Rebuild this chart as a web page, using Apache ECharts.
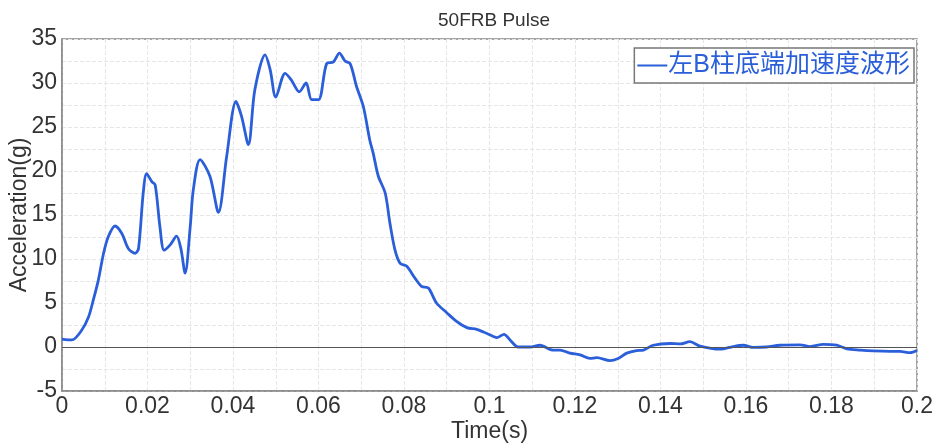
<!DOCTYPE html>
<html>
<head>
<meta charset="utf-8">
<script src="https://cdn.jsdelivr.net/npm/echarts@6/dist/echarts.min.js"></script>
<style>
html,body{margin:0;padding:0;background:#fff;}
#c{width:934px;height:446px;}
</style>
</head>
<body>
<div id="c"></div>
<script>
var timeS = [0,0.0023,0.0046,0.0062,0.0073,0.0085,0.0097,0.0108,0.0124,0.014,0.0155,0.0171,0.0179,0.019,0.0198,0.021,0.0218,0.0229,0.0239,0.0253,0.0268,0.0278,0.0288,0.0300,0.0307,0.0323,0.0346,0.0366,0.0385,0.0407,0.042,0.0436,0.0451,0.0475,0.0487,0.05,0.0522,0.0537,0.0555,0.0571,0.0584,0.06,0.0619,0.0635,0.0649,0.0662,0.0674,0.0689,0.0705,0.072,0.0728,0.074,0.0756,0.0767,0.0779,0.0791,0.0806,0.0826,0.0841,0.0857,0.0876,0.09,0.0923,0.0947,0.097,0.0986,0.1009,0.1017,0.1034,0.1048,0.1067,0.1095,0.1118,0.1149,0.1165,0.1188,0.1212,0.1235,0.1251,0.1282,0.1301,0.1321,0.1344,0.136,0.1383,0.1422,0.1446,0.1469,0.1492,0.1539,0.157,0.1594,0.1617,0.1648,0.1679,0.1726,0.175,0.1781,0.1812,0.1836,0.1867,0.1898,0.1937,0.196,0.1984,0.2];
var accelG = [0.9,0.8,1.9,3.4,5.3,7.6,10.6,12.5,13.75,12.9,11.2,10.65,11.2,17.5,19.7,18.8,18.4,13.7,11.0,11.6,12.6,11.2,8.4,13.7,17.8,21.3,19.4,15.3,21.6,27.9,26.2,23.0,29.2,33.2,31.5,28.4,31.1,30.3,29.0,30.0,28.1,28.1,32.2,32.4,33.4,32.5,32.2,29.6,27.3,23.5,22.0,19.4,17.5,14.1,11.0,9.5,9.2,7.8,6.9,6.7,5.0,3.9,2.9,2.2,2.0,1.7,1.2,1.06,1.44,0.8,0,0,0.2,-0.35,-0.35,-0.7,-0.9,-1.3,-1.2,-1.55,-1.3,-0.7,-0.4,-0.35,0.2,0.4,0.35,0.6,0.1,-0.25,0.05,0.2,-0.05,0,0.2,0.25,0.05,0.3,0.2,-0.2,-0.35,-0.45,-0.5,-0.5,-0.65,-0.4];
var seriesName = '左B柱底端加速度波形';
var chartTitle = '50FRB Pulse';
var xName = 'Time(s)';
var yName = 'Acceleration(g)';

var pts = timeS.map(function(t,i){return [t, accelG[i]];});
var font = 'Liberation Sans, Arial, sans-serif';
var chart = echarts.init(document.getElementById('c'), null, {renderer:'canvas'});
chart.setOption({
  backgroundColor:'#fff',
  animation:false,
  title:{text:chartTitle, left:489, top:6, textAlign:'center',
    textStyle:{fontFamily:font, fontSize:19, fontWeight:'normal', color:'#333'}},
  legend:{
    right:20, top:48, orient:'horizontal',
    backgroundColor:'#fff', borderColor:'#777', borderWidth:1.5,
    padding:[5,4,5,3],
    icon:'rect', itemWidth:30, itemHeight:2, itemGap:4,
    textStyle:{fontFamily:'Liberation Sans, Noto Sans CJK SC, sans-serif', fontSize:25, color:'#2b5fd9', padding:[0,0,0,-4]},
    data:[seriesName]
  },
  grid:{left:62, right:17, top:39, bottom:55, show:true, borderColor:'#888', borderWidth:1.5, outerBoundsMode:'none', containLabel:false},
  xAxis:{
    type:'value', min:0, max:0.2, interval:0.02,
    name:xName, nameLocation:'middle', nameGap:29, nameMoveOverlap:false,
    nameTextStyle:{fontFamily:font, fontSize:23, color:'#333', verticalAlign:'top'},
    axisLine:{show:true, onZero:false, lineStyle:{color:'#888', width:1.5}},
    axisTick:{show:false},
    axisLabel:{fontFamily:font, fontSize:23, color:'#333', margin:4,
      formatter:function(v){return String(Math.round(v*100)/100);}},
    splitLine:{show:true, lineStyle:{color:'#e6e6e6', width:1, type:'dashed'}},
    minorTick:{show:false, splitNumber:2},
    minorSplitLine:{show:true, lineStyle:{color:'#e6e6e6', width:1, type:'dashed'}}
  },
  yAxis:{
    type:'value', min:-5, max:35, interval:5,
    name:yName, nameLocation:'middle', nameGap:31, nameRotate:90, nameMoveOverlap:false,
    nameTextStyle:{fontFamily:font, fontSize:23, color:'#333', verticalAlign:'bottom'},
    axisLine:{show:true, onZero:false, lineStyle:{color:'#888', width:1.5}},
    axisTick:{show:false},
    axisLabel:{fontFamily:font, fontSize:23, color:'#333', margin:5},
    splitLine:{show:true, lineStyle:{color:'#e6e6e6', width:1, type:'dashed'}},
    minorTick:{show:false, splitNumber:2},
    minorSplitLine:{show:true, lineStyle:{color:'#e6e6e6', width:1, type:'dashed'}}
  },
  series:[{
    name:seriesName, type:'line', data:pts, showSymbol:false, smooth:0.3,
    lineStyle:{color:'#2b5fd9', width:2.8}, itemStyle:{color:'#2b5fd9'},
    markLine:{silent:true, symbol:'none', label:{show:false},
      lineStyle:{color:'#555', width:1.2, type:'solid'},
      data:[{yAxis:0}]},
    z:3
  }]
});
</script>
</body>
</html>
